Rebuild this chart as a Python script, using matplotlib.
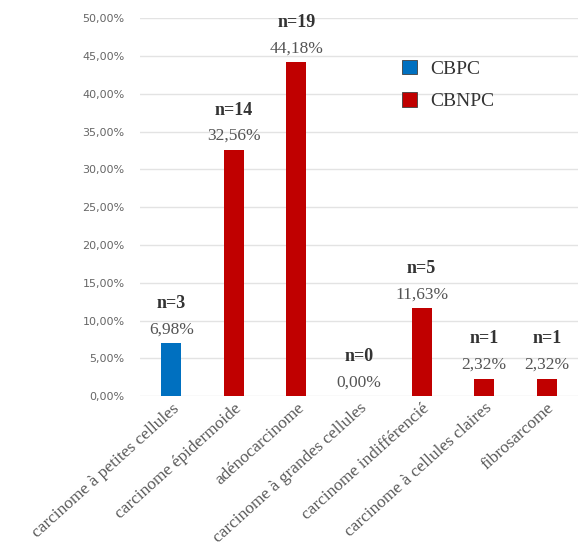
import matplotlib.pyplot as plt
from matplotlib.patches import Patch
from matplotlib.ticker import FuncFormatter

# types histologiques, pourcentages et effectifs
types = ['carcinome à petites cellules', 'carcinome épidermoide', 'adénocarcinome',
         'carcinome à grandes cellules', 'carcinome indifférencié',
         'carcinome à cellules claires', 'fibrosarcome']
pourcentages = [6.98, 32.56, 44.18, 0.00, 11.63, 2.32, 2.32]
effectifs = [3, 14, 19, 0, 5, 1, 1]
groupes = ['CBPC', 'CBNPC', 'CBNPC', 'CBNPC', 'CBNPC', 'CBNPC', 'CBNPC']

couleurs = {'CBPC': '#0070C0', 'CBNPC': '#C00000'}
serif = 'Liberation Serif'

fig = plt.figure(figsize=(5.81, 5.51), dpi=100)
ax = fig.add_axes([0.241, 0.281, 0.754, 0.686])

x = range(len(types))
ax.bar(x, pourcentages, width=0.32, color=[couleurs[g] for g in groupes], zorder=3)

# valeurs et effectifs au-dessus des barres
for i, (p, n) in enumerate(zip(pourcentages, effectifs)):
    ax.annotate(f'{p:.2f}%'.replace('.', ','), (i, p), xytext=(0, 14),
                textcoords='offset pixels', ha='center', va='center',
                fontsize=12.5, family=serif, color='#555555')
    ax.annotate(f'n={n}', (i, p), xytext=(0, 40), textcoords='offset pixels',
                ha='center', va='center', fontsize=13, family=serif,
                fontweight='bold', color='#333333')

ax.set_xlim(-0.5, len(types) - 0.5)
ax.set_ylim(0, 50)
ax.set_yticks(range(0, 51, 5))
ax.yaxis.set_major_formatter(FuncFormatter(lambda v, _: f'{v:.2f}%'.replace('.', ',')))
ax.tick_params(axis='y', length=0, pad=11, labelsize=8, labelcolor='#666666')
ax.tick_params(axis='x', length=0, pad=3)
ax.set_xticks(list(x))
ax.set_xticklabels(types, rotation=42, ha='right', rotation_mode='anchor',
                   fontsize=12.5, family=serif, color='#595959')
ax.grid(axis='y', color='#e3e3e3', linewidth=1, zorder=0)
for s in ax.spines.values():
    s.set_visible(False)

handles = [Patch(facecolor=couleurs[g], edgecolor='#404040', linewidth=0.6)
           for g in ['CBPC', 'CBNPC']]
fig.legend(handles, ['CBPC', 'CBNPC'], loc='upper left',
           bbox_to_anchor=(0.662, 0.923), frameon=False,
           prop={'family': serif, 'size': 14}, handlelength=0.75,
           handleheight=0.75, labelspacing=0.75, handletextpad=0.7,
           labelcolor='#333333')

fig.savefig('out.png', dpi=100)
